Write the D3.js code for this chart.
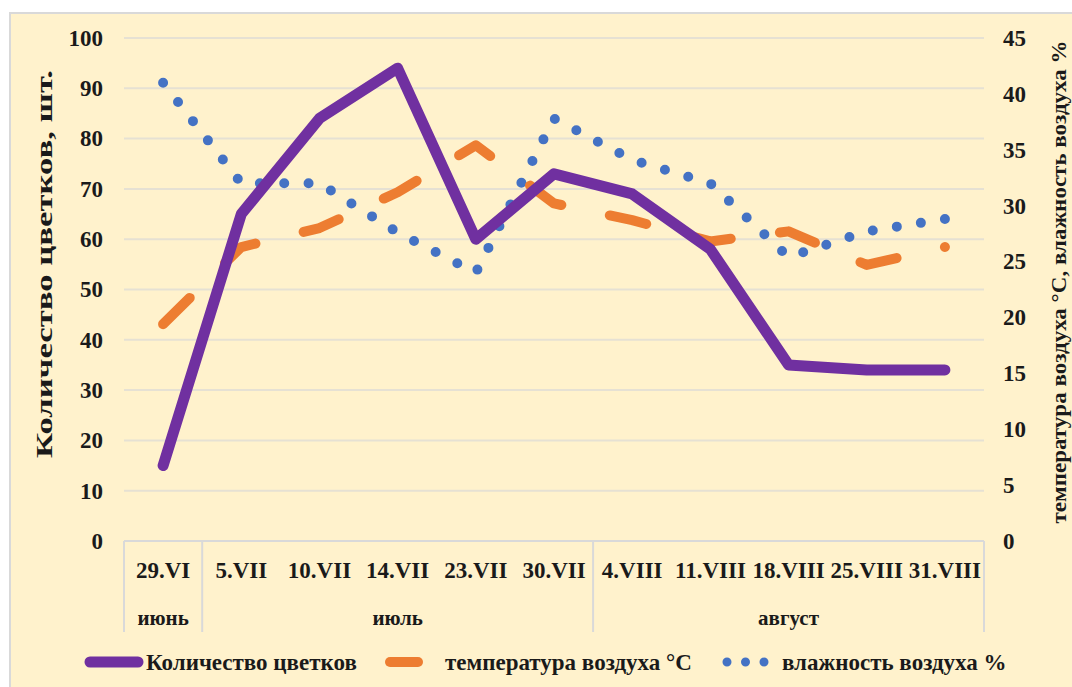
<!DOCTYPE html>
<html lang="ru">
<head>
<meta charset="utf-8">
<script src="https://cdn.jsdelivr.net/npm/d3@7"></script>
<style>
  html, body { margin: 0; padding: 0; background: #ffffff; }
  svg { display: block; }
  text { font-family: "Liberation Serif", "Times New Roman", serif; font-weight: bold; fill: #1a1a1a; }
</style>
</head>
<body>
<svg id="chart" width="1072" height="687"></svg>
<script>
// Даты наблюдений и месяцы
const categories = ["29.VI", "5.VII", "10.VII", "14.VII", "23.VII", "30.VII", "4.VIII", "11.VIII", "18.VIII", "25.VIII", "31.VIII"];
const monthNames = ["июнь", "июль", "август"];
const monthSpans = [1, 5, 5];

// Количество цветков, шт. (левая ось)
const flowers = [15, 65, 84, 94, 60, 73, 69, 58, 35, 34, 34];
// Температура воздуха, °С (правая ось)
const temperature = [19.4, 26.3, 28.0, 31.2, 35.4, 30.2, 28.7, 26.8, 27.7, 24.7, 26.3];
// Влажность воздуха, % (правая ось)
const humidity = [41.0, 32.0, 32.0, 27.6, 24.0, 37.8, 34.1, 32.0, 25.4, 27.7, 28.8];

const leftTicks = [0, 10, 20, 30, 40, 50, 60, 70, 80, 90, 100];
const rightTicks = [0, 5, 10, 15, 20, 25, 30, 35, 40, 45];

const seriesNames = ["Количество цветков", "температура  воздуха °С", "влажность  воздуха %"];
const leftTitle = "Количество цветков, шт.";
const rightTitle = "температура  воздуха °С,  влажность  воздуха %";

const colors = { flowers: "#7030A0", temperature: "#ED7D31", humidity: "#4472C4" };

const svg = d3.select("#chart");

// панель фона
svg.append("rect")
  .attr("x", 10).attr("y", 13)
  .attr("width", 1080).attr("height", 700)
  .attr("fill", "#FFF2CC")
  .attr("stroke", "#D9D9D9").attr("stroke-width", 2);

const plot = { left: 124, right: 984, top: 38, bottom: 541 };

const xBand = d3.scaleBand().domain(categories).range([plot.left, plot.right]).padding(0);
const x = d => xBand(d) + xBand.bandwidth() / 2;
const yLeft = d3.scaleLinear().domain([0, 100]).range([plot.bottom, plot.top]);
const yRight = d3.scaleLinear().domain([0, 45]).range([plot.bottom, plot.top]);

// горизонтальная сетка
svg.append("g")
  .selectAll("line")
  .data(leftTicks.filter(t => t > 0))
  .join("line")
  .attr("x1", plot.left).attr("x2", plot.right)
  .attr("y1", d => yLeft(d)).attr("y2", d => yLeft(d))
  .attr("stroke", "#E6E1D3").attr("stroke-width", 2);

// левая ось
const leftAxis = svg.append("g")
  .attr("transform", `translate(${plot.left},0)`)
  .call(d3.axisLeft(yLeft).tickValues(leftTicks).tickSize(0).tickPadding(21));
leftAxis.select(".domain").remove();
leftAxis.selectAll("text").attr("font-size", 23).attr("font-family", null).attr("fill", null);

// правая ось
const rightAxis = svg.append("g")
  .attr("transform", `translate(${plot.right},0)`)
  .call(d3.axisRight(yRight).tickValues(rightTicks).tickSize(0).tickPadding(19));
rightAxis.select(".domain").remove();
rightAxis.selectAll("text").attr("font-size", 23).attr("font-family", null).attr("fill", null);

// нижняя ось категорий
svg.append("line")
  .attr("x1", plot.left).attr("x2", plot.right)
  .attr("y1", plot.bottom).attr("y2", plot.bottom)
  .attr("stroke", "#D9D9D9").attr("stroke-width", 2);

const bottomAxis = svg.append("g")
  .attr("transform", `translate(0,${plot.bottom})`)
  .call(d3.axisBottom(xBand).tickSize(0).tickPadding(0));
bottomAxis.select(".domain").remove();
bottomAxis.selectAll("text")
  .attr("font-size", 23).attr("font-family", null).attr("fill", null)
  .attr("dy", null).attr("y", 37);

// границы месяцев
const monthStarts = monthSpans.map((s, i) => d3.sum(monthSpans.slice(0, i)));
const edges = [0, ...monthSpans.map((s, i) => monthStarts[i] + s)];
const bandEdge = k => plot.left + k * xBand.step();
svg.append("g")
  .selectAll("line")
  .data(edges)
  .join("line")
  .attr("x1", d => bandEdge(d)).attr("x2", d => bandEdge(d))
  .attr("y1", plot.bottom).attr("y2", 632)
  .attr("stroke", "#D9D9D9").attr("stroke-width", 2);

svg.append("g")
  .selectAll("text")
  .data(monthNames)
  .join("text")
  .attr("x", (d, i) => (bandEdge(monthStarts[i]) + bandEdge(monthStarts[i] + monthSpans[i])) / 2)
  .attr("y", 625)
  .attr("text-anchor", "middle")
  .attr("font-size", 21)
  .text(d => d);

// заголовки осей
svg.append("text")
  .attr("transform", "translate(44,264) rotate(-90)")
  .attr("text-anchor", "middle")
  .attr("dominant-baseline", "central")
  .attr("font-size", 23)
  .attr("textLength", 388).attr("lengthAdjust", "spacingAndGlyphs")
  .text(leftTitle);

svg.append("text")
  .attr("transform", "translate(1058,282) rotate(-90)")
  .attr("text-anchor", "middle")
  .attr("dominant-baseline", "central")
  .attr("font-size", 22)
  .attr("textLength", 483).attr("lengthAdjust", "spacingAndGlyphs")
  .text(rightTitle);

// линии рядов
const lineLeft = d3.line().x((d, i) => x(categories[i])).y(d => yLeft(d));
const lineRight = d3.line().x((d, i) => x(categories[i])).y(d => yRight(d));

// пунктир подгоняется под длину линии, чтобы последний штрих лёг на конечную точку
function fitDash(path, period, dashShare) {
  const total = path.node().getTotalLength();
  const n = Math.max(1, Math.round(total / period));
  const p = total / n;
  const dash = p * dashShare;
  path.attr("stroke-dasharray", `${dash},${p - dash}`);
}

const humidityPath = svg.append("path")
  .datum(humidity)
  .attr("d", lineRight)
  .attr("fill", "none")
  .attr("stroke", colors.humidity)
  .attr("stroke-width", 10)
  .attr("stroke-linecap", "round");
fitDash(humidityPath, 24.5, 0);

const temperaturePath = svg.append("path")
  .datum(temperature)
  .attr("d", lineRight)
  .attr("fill", "none")
  .attr("stroke", colors.temperature)
  .attr("stroke-width", 10)
  .attr("stroke-linecap", "round")
  .attr("stroke-linejoin", "round");
fitDash(temperaturePath, 87, 0.43);

svg.append("path")
  .datum(flowers)
  .attr("d", lineLeft)
  .attr("fill", "none")
  .attr("stroke", colors.flowers)
  .attr("stroke-width", 11)
  .attr("stroke-linecap", "round")
  .attr("stroke-linejoin", "round");

// легенда
const legendY = 662;
const legend = svg.append("g");
legend.append("line")
  .attr("x1", 90).attr("x2", 138).attr("y1", legendY).attr("y2", legendY)
  .attr("stroke", colors.flowers).attr("stroke-width", 11).attr("stroke-linecap", "round");
legend.append("text").attr("x", 146).attr("y", legendY + 8).attr("font-size", 23).text(seriesNames[0]);

legend.append("line")
  .attr("x1", 390).attr("x2", 418).attr("y1", legendY).attr("y2", legendY)
  .attr("stroke", colors.temperature).attr("stroke-width", 10).attr("stroke-linecap", "round");
legend.append("text").attr("x", 445).attr("y", legendY + 8).attr("font-size", 23).text(seriesNames[1]);

legend.append("line")
  .attr("x1", 727).attr("x2", 764.5).attr("y1", legendY).attr("y2", legendY)
  .attr("stroke", colors.humidity).attr("stroke-width", 9).attr("stroke-linecap", "round")
  .attr("stroke-dasharray", "0,18.5");
legend.append("text").attr("x", 782).attr("y", legendY + 8).attr("font-size", 23).text(seriesNames[2]);
</script>
</body>
</html>
